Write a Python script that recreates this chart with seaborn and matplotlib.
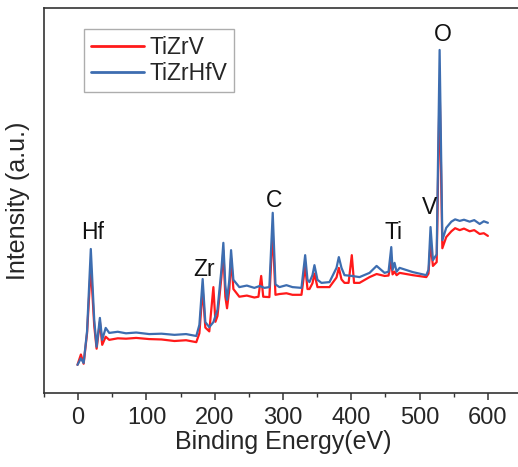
import numpy as np
import pandas as pd
import matplotlib
matplotlib.use('Agg')
import matplotlib.pyplot as plt
import seaborn as sns
from matplotlib.ticker import MultipleLocator

# XPS survey spectra (binding energy eV, intensity a.u.)
ZRHFV_EV = [-1, 4, 8, 13, 18.5, 23.5, 27, 31.8, 35.2, 40.3, 45.5, 58, 70, 85, 104, 122,
            141, 158, 173, 177.5, 182.3, 186.2, 192, 198, 204, 209.7, 212.6, 215.5, 218,
            221.4, 223.9, 227.3, 236, 247, 258, 266, 272.7, 280, 284.9, 288.9, 294.7, 305,
            313.8, 327, 332.4, 335.8, 338.7, 343.1, 346, 350.4, 356.3, 368, 378.3, 381.7,
            385.6, 390, 400.7, 412, 426.7, 437, 448.7, 454.5, 458.5, 460.4, 463.3, 466.3,
            470.7, 490, 509.8, 513, 516, 519.5, 525, 529.3, 533.3, 539, 546.5, 552, 558.7,
            565, 573.3, 580, 588, 594, 600]
ZRHFV_I = [7.3, 9.0, 7.8, 16, 37.4, 19, 12, 19.5, 13.8, 16.9, 15.6, 15.9, 15.5, 15.7, 15.3, 15.4,
           15.1, 15.3, 14.8, 17.7, 29.6, 18.4, 17.1, 18.4, 21.6, 31.9, 39, 28, 24.2,
           29.4, 37.1, 29.4, 27.5, 27.9, 27.3, 27.8, 27.3, 27.5, 46.8, 28.2, 27.5, 28.0,
           27.5, 27.3, 35.8, 29.4, 28.8, 30.6, 33.2, 29.4, 28.6, 28.8, 32.5, 35.3,
           32.5, 30.6, 30.4, 30.1, 31.2, 33, 31.2, 31.5, 37.9, 32, 33.8, 31.5,
           32.5, 31.4, 30.6, 32, 43.1, 34.5, 36, 89.1, 39.7, 42.9, 44.5, 45.1, 44.7,
           45.0, 44.5, 44.9, 43.9, 44.6, 44.2]

ZRV_EV = [-1, 4, 8, 13, 18.5, 23.5, 27, 31.8, 35.2, 40.3, 45.5, 58, 70, 85, 104, 122,
          141, 158, 173, 177.5, 182.3, 186.2, 192, 198, 201, 204, 209.7, 212.6, 215.5, 218,
          221.4, 223.9, 227.3, 236, 247, 258, 264, 268, 271, 280, 284.9, 288.9, 294.7, 305,
          313.8, 327, 332.4, 335.8, 338.7, 343.1, 346, 350.4, 356.3, 368, 378.3, 381.7,
          385.6, 390, 396, 400.7, 404, 412, 426.7, 437, 448.7, 454.5, 458.5, 460.4, 463.3,
          466.3, 470.7, 490, 509.8, 513, 516, 519.5, 525, 529.3, 533.3, 539, 546.5, 552,
          558.7, 565, 573.3, 580, 588, 594, 600]
ZRV_I = [7.3, 10, 7.6, 15.5, 33, 17.5, 11.5, 18.5, 12.5, 14.6, 13.8, 14.2, 14.1, 14.3, 14, 13.9,
         13.5, 13.7, 13.2, 15.5, 27, 17, 16, 27.5, 18.5, 20, 30, 37, 25, 22,
         27, 35, 27, 25, 25.3, 24.8, 25, 30.4, 25, 24.9, 42, 25.5, 25.7, 25.9,
         25.5, 25.5, 33, 27, 27, 28.5, 31, 27.5, 27.5, 27.5, 30, 32.5,
         29.5, 28.6, 28.6, 35.8, 28.6, 28.6, 30.1, 30.9, 30.4, 30.5, 34.5, 30.8, 31.5,
         30.6, 31.2, 30.6, 30.1, 31, 39, 33, 34, 80, 37.6, 40.5, 42, 42.8,
         42.3, 42.7, 42, 42.3, 41.3, 41.5, 40.8]

SAMPLES = ['TiZrV', 'TiZrHfV']
COLORS = ['#ff1a1a', '#3d6db0']

PEAK_LABELS = ['Hf', 'Zr', 'C', 'Ti', 'V', 'O']
PEAK_EV = [21.3, 184.8, 286.7, 461.9, 514.7, 533.7]
PEAK_I = [41.8, 32.2, 50.1, 41.8, 48.1, 93.2]

X_TICKS = [0, 100, 200, 300, 400, 500, 600]

df = pd.concat([
    pd.DataFrame({'energy': ZRV_EV, 'intensity': ZRV_I, 'sample': SAMPLES[0]}),
    pd.DataFrame({'energy': ZRHFV_EV, 'intensity': ZRHFV_I, 'sample': SAMPLES[1]}),
], ignore_index=True)

sns.set_style('ticks')
plt.rcParams['font.family'] = ['Liberation Sans', 'DejaVu Sans']

fig = plt.figure(figsize=(5.18, 4.67), dpi=100)
ax = fig.add_axes([0.085, 0.1585, 0.9228, 0.8244])

sns.lineplot(data=df, x='energy', y='intensity', hue='sample', hue_order=SAMPLES,
             palette=COLORS, sort=False, estimator=None, linewidth=1.6, ax=ax)

for lab, xe, yi in zip(PEAK_LABELS, PEAK_EV, PEAK_I):
    ax.text(xe, yi, lab, ha='center', va='center', fontsize=16.5, color='#111111')

ax.set_xlim(-50, 650)
ax.set_ylim(0, 100)
ax.set_xticks(X_TICKS)
ax.xaxis.set_minor_locator(MultipleLocator(50))
ax.set_yticks([])
ax.tick_params(axis='x', which='major', direction='out', length=5, width=1.1,
               labelsize=17, pad=5, color='#333333')
ax.tick_params(axis='x', which='minor', direction='out', length=3, width=1.0, color='#333333')
ax.set_xlabel('Binding Energy(eV)', fontsize=18, labelpad=1)
ax.set_ylabel('Intensity (a.u.)', fontsize=18, labelpad=10)

for sp in ax.spines.values():
    sp.set_visible(True)
    sp.set_linewidth(1.2)
    sp.set_color('#333333')

leg = ax.legend(loc='upper left', bbox_to_anchor=(0.084, 0.945), borderaxespad=0,
                fontsize=16.5, frameon=True, fancybox=False, handlelength=2.3,
                handletextpad=0.25, labelspacing=0.12, borderpad=0.3)
leg.get_frame().set_edgecolor('#999999')
leg.get_frame().set_linewidth(1.0)
leg.set_title(None)
for line in leg.get_lines():
    line.set_linewidth(2.0)

fig.savefig('out.png', dpi=100)
plt.close()
